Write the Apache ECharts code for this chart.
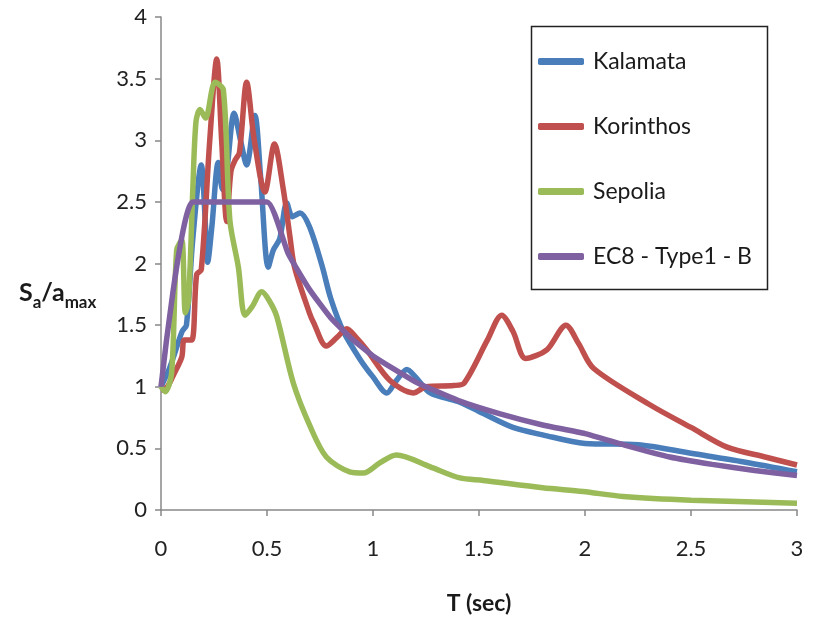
<!DOCTYPE html>
<html>
<head>
<meta charset="utf-8">
<script src="https://cdn.jsdelivr.net/npm/echarts@6/dist/echarts.min.js"></script>
<style>html,body{margin:0;padding:0;background:#fff}#c{width:814px;height:628px}</style>
</head>
<body>
<div id="c"></div>
<script>
// ---- data ----
const seriesNames = ['Kalamata', 'Korinthos', 'Sepolia', 'EC8 - Type1 - B'];

const kalamataT  = [0, 0.04, 0.07, 0.1, 0.12, 0.15, 0.19, 0.21, 0.22, 0.24, 0.27, 0.29, 0.31, 0.345, 0.375, 0.404, 0.443, 0.47, 0.506, 0.53, 0.56, 0.593, 0.62, 0.656, 0.7, 0.76, 0.8, 0.86, 0.94, 1.0, 1.065, 1.11, 1.16, 1.2, 1.27, 1.4, 1.5, 1.66, 1.8, 2.0, 2.25, 2.5, 2.75, 3.0];
const kalamataSa = [1.0, 1.15, 1.3, 1.45, 1.5, 2.2, 2.8, 2.3, 2.01, 2.3, 2.82, 2.6, 2.75, 3.22, 3.0, 2.8, 3.2, 2.7, 1.97, 2.11, 2.2, 2.49, 2.38, 2.41, 2.3, 1.98, 1.72, 1.45, 1.22, 1.08, 0.95, 1.05, 1.14, 1.08, 0.95, 0.88, 0.8, 0.67, 0.61, 0.54, 0.53, 0.46, 0.39, 0.31];

const korinthosT  = [0, 0.03, 0.06, 0.098, 0.11, 0.145, 0.168, 0.19, 0.23, 0.263, 0.286, 0.31, 0.33, 0.35, 0.37, 0.404, 0.44, 0.49, 0.535, 0.577, 0.608, 0.63, 0.70, 0.72, 0.78, 0.83, 0.876, 0.92, 0.97, 1.08, 1.19, 1.25, 1.38, 1.43, 1.54, 1.607, 1.66, 1.72, 1.82, 1.91, 1.97, 2.04, 2.31, 2.5, 2.67, 2.85, 3.0];
const korinthosSa = [0.97, 1.0, 1.1, 1.24, 1.38, 1.38, 1.91, 1.95, 3.0, 3.66, 3.0, 2.34, 2.75, 2.84, 2.9, 3.47, 3.0, 2.58, 2.97, 2.6, 2.22, 1.97, 1.6, 1.52, 1.33, 1.4, 1.47, 1.4, 1.3, 1.05, 0.95, 1.0, 1.01, 1.03, 1.38, 1.58, 1.45, 1.23, 1.3, 1.5, 1.35, 1.15, 0.85, 0.67, 0.51, 0.43, 0.365];

const sepoliaT  = [0, 0.02, 0.05, 0.074, 0.098, 0.115, 0.13, 0.15, 0.165, 0.184, 0.21, 0.255, 0.294, 0.325, 0.365, 0.396, 0.43, 0.475, 0.51, 0.546, 0.624, 0.703, 0.78, 0.89, 0.955, 1.03, 1.11, 1.27, 1.41, 1.52, 1.8, 1.99, 2.18, 2.5, 3.0];
const sepoliaSa = [1.0, 0.96, 1.11, 2.11, 2.19, 1.6, 1.7, 2.6, 3.15, 3.25, 3.18, 3.47, 3.41, 2.35, 1.97, 1.58, 1.65, 1.77, 1.7, 1.57, 1.03, 0.68, 0.43, 0.31, 0.30, 0.38, 0.446, 0.35, 0.26, 0.24, 0.18, 0.15, 0.11, 0.08, 0.055];

const ec8T  = [0, 0.15, 0.5, 0.6, 0.7, 0.8, 0.9, 1.0, 1.2, 1.4, 1.6, 1.8, 2.0, 2.2, 2.4, 2.6, 2.8, 3.0];
const ec8Sa = [1.0, 2.5, 2.5, 2.08, 1.79, 1.56, 1.39, 1.25, 1.04, 0.89, 0.78, 0.69, 0.62, 0.52, 0.43, 0.37, 0.32, 0.28];

const xTicks = ['0', '0.5', '1', '1.5', '2', '2.5', '3'];
const yTicks = ['0', '0.5', '1', '1.5', '2', '2.5', '3', '3.5', '4'];

// ---- chart ----
const colors = ['#4A7EBB', '#C0504D', '#9BBB59', '#7F60A0'];
const FONT = 'Lato';
const zip = (t, s) => t.map((v, i) => [v, s[i]]);
const allData = [zip(kalamataT, kalamataSa), zip(korinthosT, korinthosSa), zip(sepoliaT, sepoliaSa), zip(ec8T, ec8Sa)];

const chart = echarts.init(document.getElementById('c'), null, {renderer: 'canvas'});
chart.setOption({
  animation: false,
  backgroundColor: '#fff',
  color: colors,
  grid: {left: 161, right: 17, top: 17, bottom: 118},
  xAxis: {
    type: 'value', min: 0, max: 3, interval: 0.5,
    name: 'T (sec)', nameLocation: 'middle', nameGap: 82,
    nameTextStyle: {fontFamily: FONT, fontWeight: 'bold', fontSize: 23, color: '#1a1a1a'},
    axisLine: {lineStyle: {color: '#888', width: 1.5}},
    axisTick: {show: true, length: 6, inside: false, lineStyle: {color: '#888', width: 1.5}},
    axisLabel: {fontFamily: FONT, fontSize: 22, color: '#222', margin: 28,
      formatter: v => xTicks[Math.round(v / 0.5)]},
    splitLine: {show: false}
  },
  yAxis: {
    type: 'value', min: 0, max: 4, interval: 0.5,
    axisLine: {show: true, lineStyle: {color: '#888', width: 1.5}},
    axisTick: {show: true, length: 6, lineStyle: {color: '#888', width: 1.5}},
    axisLabel: {fontFamily: FONT, fontSize: 22, color: '#222', margin: 14,
      formatter: v => yTicks[Math.round(v / 0.5)]},
    splitLine: {show: false}
  },
  legend: {
    orient: 'vertical', left: 533, top: 44,
    itemWidth: 46, itemHeight: 7, itemGap: 40, icon: 'roundRect',
    textStyle: {fontFamily: FONT, fontSize: 23, color: '#1a1a1a', lineHeight: 25, padding: [0, 0, 0, 4]},
    data: seriesNames
  },
  graphic: [
    {type: 'rect', left: 529, top: 24, shape: {width: 236, height: 263},
      style: {fill: 'none', stroke: '#222', lineWidth: 1.5}, z: 10},
    {type: 'text', left: 19, top: 280, z: 10,
      style: {text: '{m|S}{s|a}{m|/a}{s|max}', fill: '#1a1a1a',
        rich: {
          m: {fontFamily: FONT, fontWeight: 'bold', fontSize: 25, lineHeight: 30, verticalAlign: 'bottom'},
          s: {fontFamily: FONT, fontWeight: 'bold', fontSize: 17, lineHeight: 30, verticalAlign: 'bottom', padding: [0, 0, -6, 0]}
        }}}
  ],
  series: allData.map((d, i) => ({
    name: seriesNames[i], type: 'line', data: d,
    showSymbol: false, symbol: 'none',
    smooth: i === 3 ? 0.15 : 0.3,
    lineStyle: {width: 5.5, color: colors[i]},
    itemStyle: {color: colors[i]},
    z: 2 + i
  }))
});
</script>
</body>
</html>
